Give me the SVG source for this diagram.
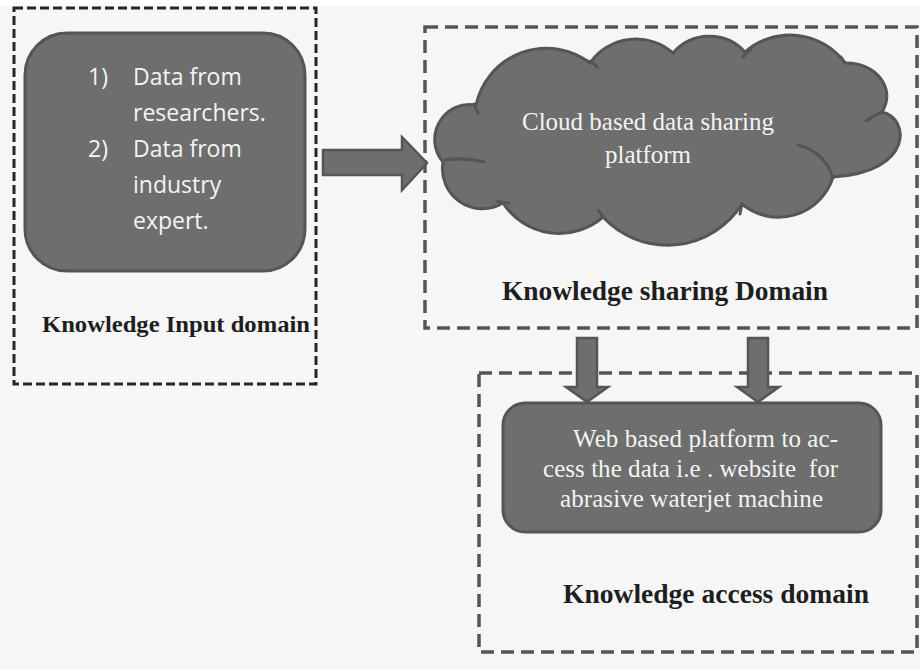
<svg xmlns="http://www.w3.org/2000/svg" width="920" height="669" viewBox="0 0 920 669">
<defs>
<style>
.bg{fill:#f6f6f6}
.dash-in{fill:none;stroke:#262626;stroke-width:3;stroke-dasharray:9 4}
.dash{fill:none;stroke:#555;stroke-width:3.5;stroke-dasharray:13 7}
.shape{fill:#6e6e6e;stroke:#555;stroke-width:3}
.crease{fill:none;stroke:#555;stroke-width:3;stroke-linecap:round}
.arrow{fill:#6e6e6e;stroke:#555;stroke-width:2.5;stroke-linejoin:miter}
.sans{font-family:"Open Sans","DejaVu Sans",sans-serif;font-size:23px;fill:#f4f4f4}
.serif{font-family:"Liberation Serif","Times New Roman",serif;font-size:25px;fill:#f4f4f4}
.label{font-family:"Liberation Serif","Times New Roman",serif;font-weight:bold;fill:#1e1e1e}
</style>
</defs>
<rect class="bg" x="0" y="0" width="920" height="669"/>
<rect x="0" y="0" width="920" height="6" fill="#ffffff"/>

<g id="domain-input">
<rect class="dash-in" x="14" y="8" width="302" height="376"/>
<text class="label" x="42" y="332" font-size="24" textLength="268" lengthAdjust="spacingAndGlyphs">Knowledge Input domain</text>
</g>

<g id="node-input">
<rect class="shape" x="25" y="33" width="280" height="238" rx="42" ry="42"/>
<text class="sans"><tspan x="88" y="85">1)</tspan><tspan x="133" y="85">Data from</tspan><tspan x="133" y="121">researchers.</tspan><tspan x="88" y="157">2)</tspan><tspan x="133" y="157">Data from</tspan><tspan x="133" y="193">industry</tspan><tspan x="133" y="229">expert.</tspan></text>
</g>

<g id="domain-sharing">
<rect class="dash" x="425" y="27" width="492" height="301"/>
<text class="label" x="502" y="300" font-size="27" textLength="326" lengthAdjust="spacingAndGlyphs">Knowledge sharing Domain</text>
</g>

<g id="node-cloud">
<path class="shape" d="M 443 162 A 35 35 0 0 1 476 105 A 72 72 0 0 1 590 63 A 56 56 0 0 1 673 53 A 48 48 0 0 1 745 52 A 68 68 0 0 1 845 63 C 875 62 897 88 882 112 C 910 118 914 172 833 177 A 57 57 0 0 1 742 204 A 88 88 0 0 1 603 217 A 67 67 0 0 1 503 203 A 40 40 0 0 1 443 162 Z"/>
<path class="crease" d="M 445 160 Q 465 157 484 162"/>
<path class="crease" d="M 474 104 Q 476 109 478 113"/>
<path class="crease" d="M 588 61 Q 594 63 597 67"/>
<path class="crease" d="M 743 57 Q 746 53 751 49"/>
<path class="crease" d="M 845 63 Q 843 60 841 57"/>
<path class="crease" d="M 882 112 Q 875 115 866 121"/>
<path class="crease" d="M 798 145 Q 825 152 833 178"/>
<path class="crease" d="M 742 204 Q 741 208 740 214"/>
<path class="crease" d="M 603 217 Q 601 213 598 210"/>
<path class="crease" d="M 497 201 Q 503 203 509 203"/>
<text class="serif" text-anchor="middle"><tspan x="648" y="130">Cloud based data sharing</tspan><tspan x="648" y="163">platform</tspan></text>
</g>

<g id="domain-access">
<rect class="dash" x="479" y="373" width="438" height="279"/>
<text class="label" x="563" y="603" font-size="27" textLength="306" lengthAdjust="spacingAndGlyphs">Knowledge access domain</text>
</g>

<g id="node-web">
<rect class="shape" x="503" y="403" width="378" height="129" rx="22" ry="22"/>
<text class="serif" xml:space="preserve"><tspan x="573" y="447" textLength="265">Web based platform to ac-</tspan><tspan x="543" y="477" textLength="295">cess the data i.e . website  for</tspan><tspan x="560" y="507" textLength="263">abrasive waterjet machine</tspan></text>
</g>

<g id="connectors">
<path class="arrow" d="M 323 150 L 402 150 L 402 137 L 427 163 L 402 190 L 402 175 L 323 175 Z"/>
<path class="arrow" d="M 577 338 L 597 338 L 597 387 L 608 387 L 587 402 L 566 387 L 577 387 Z"/>
<path class="arrow" d="M 748 338 L 768 338 L 768 387 L 779 387 L 758 402 L 737 387 L 748 387 Z"/>
</g>
</svg>
